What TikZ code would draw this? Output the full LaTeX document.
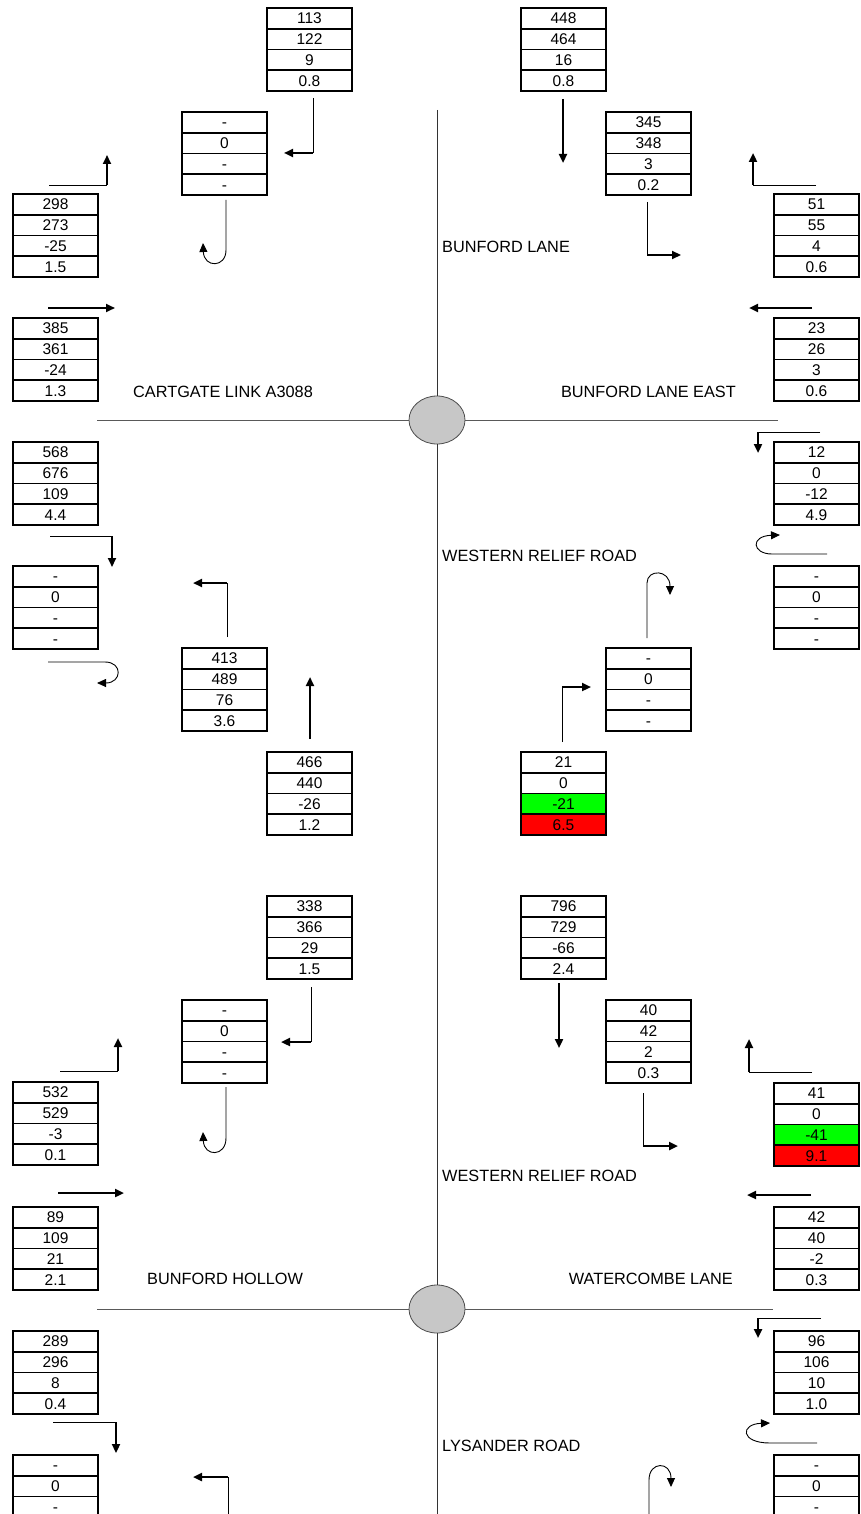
\documentclass[tikz,border=0pt]{standalone}
\usepackage{fontspec}
\setmainfont{Liberation Sans}
\usepackage{tikz}
\usetikzlibrary{positioning,shapes.geometric,arrows.meta}

\newcommand{\cellfont}{\fontsize{15.5}{18}\selectfont}
\newcommand{\roadfont}{\fontsize{16.3}{19}\selectfont}

\tikzset{
  cell/.style={draw, line width=1.7pt, minimum width=85pt, minimum height=20.75pt,
    inner sep=0pt, outer sep=0pt, text height=10.9pt, text depth=0pt, font=\cellfont},
  ok-c/.style={}, ok-d/.style={},
  bad-c/.style={fill=green}, bad-d/.style={fill=red},
  road/.style={line width=1pt, black!80},
  rbt/.style={ellipse, draw=black!70, fill=black!22, line width=0.8pt,
    minimum width=56pt, minimum height=48pt, inner sep=0pt},
  roadname/.style={font=\roadfont, inner sep=0pt, text height=11.7pt, text depth=0pt},
  feed/.style={line width=0.9pt},
  turn/.style={line width=2.2pt, ->},
}

% one count box: four stacked cells
\newcommand{\flowbox}[7][ok]{%
  \node[cell, anchor=north west] (#2-1) at #3 {#4};
  \node[cell, below=0pt of #2-1] (#2-2) {#5};
  \node[cell, #1-c, below=0pt of #2-2] (#2-3) {#6};
  \node[cell, #1-d, below=0pt of #2-3] (#2-4) {#7};
}
% thin lead line, then the thick arrow
\newcommand{\turnarrow}[3]{%
  \draw[feed] #1 -- #2;
  \draw[turn] #2 -- #3;
}

\begin{document}
\begin{tikzpicture}[>={Triangle[length=9pt,width=8pt]}, x=1pt, y=-1pt]

\useasboundingbox (0,0) rectangle (861,1514);
\clip (0,0) rectangle (861,1514);

%the roads
    \coordinate (top) at (437,110);
    \coordinate (bot) at (437,1520);
    \coordinate (w1) at (97,420);
    \coordinate (e1) at (778,420);
    \coordinate (w2) at (97,1309);
    \coordinate (e2) at (773,1309);
    \node[rbt] (rb1) at (437,420) {};
    \node[rbt] (rb2) at (437,1309) {};
    \draw[road] (top) -- (rb1.north);
    \draw[road] (rb1.south) -- (rb2.north);
    \draw[road] (rb2.south) -- (bot);
    \draw[road, black!65] (w1) -- (rb1.west) (rb1.east) -- (e1);
    \draw[road, black!65] (w2) -- (rb2.west) (rb2.east) -- (e2);

%the road names
    \node[roadname, anchor=west] (bunford) at (442,247) {BUNFORD LANE};
    \node[roadname, anchor=west] (cartgate) at (133,392) {CARTGATE LINK A3088};
    \node[roadname, anchor=east] (bunfordeast) at (736,392) {BUNFORD LANE EAST};
    \node[roadname, anchor=west] (relief1) at (442,556) {WESTERN RELIEF ROAD};
    \node[roadname, anchor=west] (relief2) at (442,1176) {WESTERN RELIEF ROAD};
    \node[roadname, anchor=west] (hollow) at (147,1279) {BUNFORD HOLLOW};
    \node[roadname, anchor=east] (watercombe) at (733,1279) {WATERCOMBE LANE};
    \node[roadname, anchor=west] (lysander) at (442,1446) {LYSANDER ROAD};

%first junction
    \flowbox{a1}{(267,8)}{113}{122}{9}{0.8}
    \flowbox{a2}{(521,8)}{448}{464}{16}{0.8}
    \flowbox{a3}{(182,112)}{-}{0}{-}{-}
    \flowbox{a4}{(606,112)}{345}{348}{3}{0.2}
    \flowbox{a5}{(13,194)}{298}{273}{-25}{1.5}
    \flowbox{a6}{(774,194)}{51}{55}{4}{0.6}
    \flowbox{a7}{(13,318)}{385}{361}{-24}{1.3}
    \flowbox{a8}{(774,318)}{23}{26}{3}{0.6}
    \flowbox{a9}{(13,442)}{568}{676}{109}{4.4}
    \flowbox{a10}{(774,442)}{12}{0}{-12}{4.9}
    \flowbox{a11}{(13,566)}{-}{0}{-}{-}
    \flowbox{a12}{(774,566)}{-}{0}{-}{-}
    \flowbox{a13}{(182,648)}{413}{489}{76}{3.6}
    \flowbox{a14}{(606,648)}{-}{0}{-}{-}
    \flowbox{a15}{(267,752)}{466}{440}{-26}{1.2}
    \flowbox[bad]{a16}{(521,752)}{21}{0}{-21}{6.5}

    \turnarrow{(313,98)}{(313,153)}{(284,153)}
    \turnarrow{(49,185)}{(107,185)}{(107,155)}
    \draw[feed,->] (226,200) -- (226,250) .. controls (226,268) and (204,268) .. (203,243);
    \draw[turn] (563,99) -- (563,163);
    \turnarrow{(647,202)}{(647,255)}{(681,255)}
    \turnarrow{(816,185)}{(753,185)}{(753,153)}
    \draw[turn] (48,308) -- (115,308);
    \draw[turn] (812,308) -- (749,308);
    \turnarrow{(50,536)}{(112,536)}{(112,567)}
    \turnarrow{(820,432)}{(758,432)}{(758,453)}
    \draw[feed,->] (827,554) -- (772,554) .. controls (752,554) and (750,536) .. (780,535);
    \draw[feed,->] (48,662) -- (105,662) .. controls (123,662) and (122,683) .. (97,683);
    \turnarrow{(227,637)}{(227,583)}{(193,583)}
    \draw[turn] (310,739) -- (310,677);
    \draw[feed,->] (647,638) -- (647,583) .. controls (647,569) and (670,569) .. (670,595);
    \turnarrow{(562,742)}{(562,687)}{(591,687)}

%second junction
    \flowbox{b1}{(267,896)}{338}{366}{29}{1.5}
    \flowbox{b2}{(521,896)}{796}{729}{-66}{2.4}
    \flowbox{b3}{(182,1000)}{-}{0}{-}{-}
    \flowbox{b4}{(606,1000)}{40}{42}{2}{0.3}
    \flowbox{b5}{(13,1082)}{532}{529}{-3}{0.1}
    \flowbox[bad]{b6}{(774,1083)}{41}{0}{-41}{9.1}
    \flowbox{b7}{(13,1207)}{89}{109}{21}{2.1}
    \flowbox{b8}{(774,1207)}{42}{40}{-2}{0.3}
    \flowbox{b9}{(13,1331)}{289}{296}{8}{0.4}
    \flowbox{b10}{(774,1331)}{96}{106}{10}{1.0}
    \flowbox{b11}{(13,1455)}{-}{0}{-}{-}
    \flowbox{b12}{(774,1455)}{-}{0}{-}{-}

    \turnarrow{(311,987)}{(311,1042)}{(281,1042)}
    \turnarrow{(60,1071)}{(118,1071)}{(118,1038)}
    \draw[feed,->] (226,1087) -- (226,1138) .. controls (226,1157) and (204,1157) .. (203,1132);
    \draw[turn] (559,983) -- (559,1048);
    \turnarrow{(643,1093)}{(643,1146)}{(678,1146)}
    \turnarrow{(812,1072)}{(749,1072)}{(749,1039)}
    \draw[turn] (58,1193) -- (124,1193);
    \draw[turn] (811,1195) -- (747,1195);
    \turnarrow{(53,1422)}{(116,1422)}{(116,1453)}
    \turnarrow{(821,1318)}{(758,1318)}{(758,1338)}
    \draw[feed,->] (817,1443) -- (770,1443) .. controls (740,1443) and (740,1424) .. (770,1423);
    \turnarrow{(228,1520)}{(228,1477)}{(193,1477)}
    \draw[feed,->] (649,1520) -- (649,1480) .. controls (649,1461) and (671,1461) .. (671,1487);
\end{tikzpicture}
\end{document}
